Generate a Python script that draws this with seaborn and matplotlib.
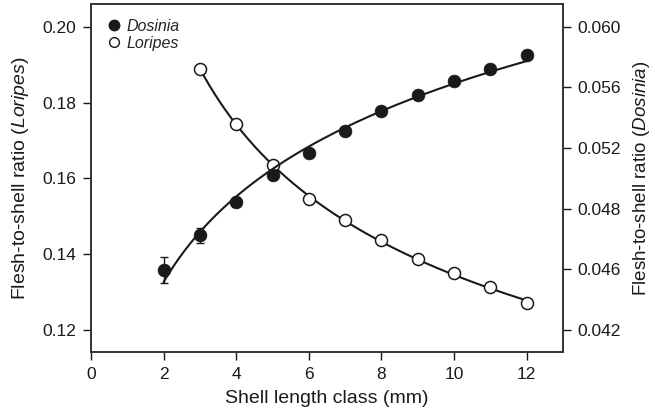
import numpy as np
import pandas as pd
import matplotlib
matplotlib.use("Agg")
import matplotlib.pyplot as plt
import seaborn as sns
from matplotlib.lines import Line2D
from matplotlib.ticker import FixedLocator, FixedFormatter

# ---- data ----
dosinia_x = [2, 3, 4, 5, 6, 7, 8, 9, 10, 11, 12]
dosinia_y = [0.04395, 0.04624, 0.04845, 0.05023, 0.05165, 0.05311,
             0.05442, 0.05552, 0.05643, 0.05722, 0.05813]
dosinia_err = [0.00085, 0.00049, 0.00026, 0.0002, 0.0002, 0.0002,
               0.0002, 0.0002, 0.0002, 0.0002, 0.0002]

loripes_x = [3, 4, 5, 6, 7, 8, 9, 10, 11, 12]
loripes_y = [0.18887, 0.17447, 0.16355, 0.15457, 0.14889, 0.14365,
             0.13867, 0.13493, 0.13126, 0.12715]

x_ticks = [0, 2, 4, 6, 8, 10, 12]
left_ticks = [0.12, 0.14, 0.16, 0.18, 0.20]
left_labels = ["0.12", "0.14", "0.16", "0.18", "0.20"]
right_ticks = [0.060, 0.056, 0.052, 0.048, 0.044, 0.040]
right_labels = ["0.060", "0.056", "0.052", "0.048", "0.046", "0.042"]

# ---- style ----
sns.set_style("ticks")
plt.rcParams["font.family"] = ["Liberation Sans", "DejaVu Sans"]
plt.rcParams["mathtext.fontset"] = "custom"
plt.rcParams["mathtext.rm"] = "Liberation Sans"
plt.rcParams["mathtext.it"] = "Liberation Sans:italic"

fig = plt.figure(figsize=(6.55, 4.19), dpi=100)
ax = fig.add_axes([0.1389, 0.1599, 0.7206, 0.8306])
ax2 = ax.twinx()

dos = pd.DataFrame({"x": dosinia_x, "y": dosinia_y})
lor = pd.DataFrame({"x": loripes_x, "y": loripes_y})

# fitted curves
cd = np.polyfit(np.log(dosinia_x), dosinia_y, 1)
xd = np.linspace(min(dosinia_x), max(dosinia_x), 200)
fit_d = pd.DataFrame({"x": xd, "y": cd[0] * np.log(xd) + cd[1]})

cl = np.polyfit(np.log(loripes_x), np.log(loripes_y), 1)
xl = np.linspace(min(loripes_x), max(loripes_x), 200)
fit_l = pd.DataFrame({"x": xl, "y": np.exp(cl[1]) * xl ** cl[0]})

sns.lineplot(data=fit_l, x="x", y="y", ax=ax, color="#1a1a1a", lw=1.5, zorder=2)
sns.scatterplot(data=lor, x="x", y="y", ax=ax, marker="o", s=75,
                facecolor="white", edgecolor="#1a1a1a", linewidth=1.1, zorder=3)

sns.lineplot(data=fit_d, x="x", y="y", ax=ax2, color="#1a1a1a", lw=1.5, zorder=2)
ax2.errorbar(dosinia_x, dosinia_y, yerr=dosinia_err, fmt="none",
             ecolor="#1a1a1a", elinewidth=1.0, capsize=3, zorder=2)
sns.scatterplot(data=dos, x="x", y="y", ax=ax2, marker="o", s=85,
                color="#1a1a1a", edgecolor="#1a1a1a", linewidth=0.5, zorder=3)

# ---- axes ----
ax.set_xlim(0, 13)
ax.set_ylim(0.1142, 0.206)
ax2.set_ylim(0.03855, 0.0615)

ax.set_xticks(x_ticks)
ax.set_xticklabels([str(t) for t in x_ticks])
ax.yaxis.set_major_locator(FixedLocator(left_ticks))
ax.yaxis.set_major_formatter(FixedFormatter(left_labels))
ax2.yaxis.set_major_locator(FixedLocator(right_ticks))
ax2.yaxis.set_major_formatter(FixedFormatter(right_labels))

for a in (ax, ax2):
    a.tick_params(axis="both", direction="out", length=6, width=1.0,
                  labelsize=12.5, colors="#1a1a1a", pad=4.5)
    for s in a.spines.values():
        s.set_visible(True)
        s.set_linewidth(1.2)
        s.set_color("#333333")

ax.set_xlabel("Shell length class (mm)", fontsize=14, color="#1a1a1a", labelpad=6)
ax.set_ylabel(r"Flesh-to-shell ratio $\mathit{(Loripes)}$", fontsize=14,
              color="#1a1a1a", labelpad=8)
ax2.set_ylabel(r"Flesh-to-shell ratio $\mathit{(Dosinia)}$", fontsize=13.5,
               color="#1a1a1a", labelpad=7)

handles = [
    Line2D([], [], marker="o", ls="none", markersize=7.5, markerfacecolor="#1a1a1a",
           markeredgecolor="#1a1a1a", label="Dosinia"),
    Line2D([], [], marker="o", ls="none", markersize=7, markerfacecolor="white",
           markeredgecolor="#1a1a1a", markeredgewidth=1.0, label="Loripes"),
]
ax.legend(handles=handles, loc="upper left", frameon=False,
          prop={"style": "italic", "size": 11.5}, handletextpad=0.2,
          borderaxespad=0.3, labelspacing=0.15, handlelength=1.2,
          bbox_to_anchor=(0.005, 0.99))

fig.savefig("out.png", dpi=100)
